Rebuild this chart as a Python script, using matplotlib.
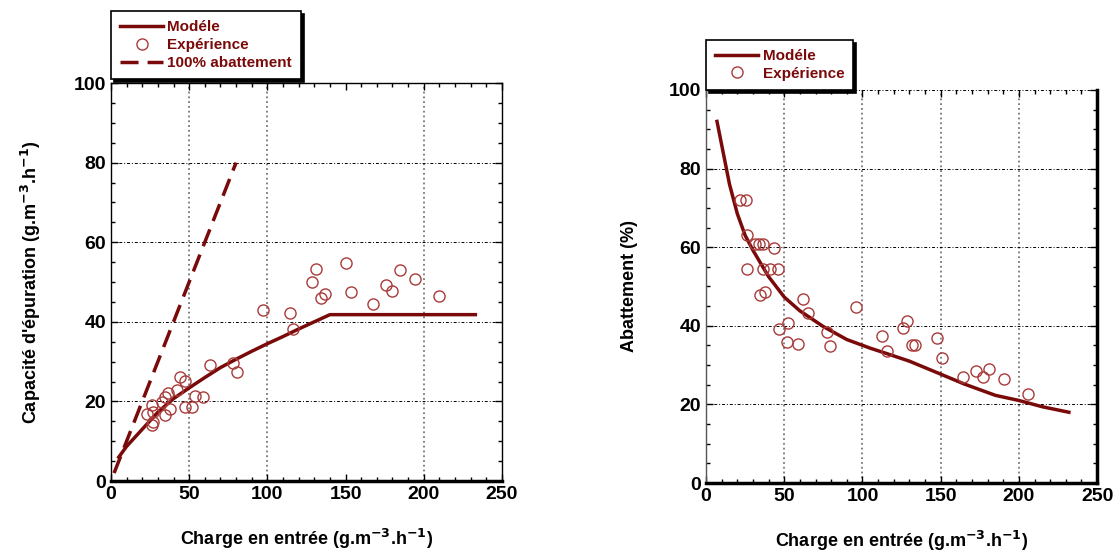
import matplotlib.pyplot as plt
from matplotlib.ticker import MultipleLocator

plt.rcParams['font.family'] = ['Liberation Sans', 'DejaVu Sans']
plt.rcParams['font.weight'] = 'bold'

# --- Capacité d'épuration ---
charge_exp_1 = [22.8, 26, 26.4, 27, 27.1, 32.4, 34.5, 34.5, 36.6, 37.7, 42, 44.1, 47.3, 47.3,
                51.6, 53.7, 59, 63.3, 78.2, 80.4, 97.4, 114.5, 116.6, 128.7, 130.9, 134.1,
                136.8, 150.3, 153.3, 167.7, 175.6, 179.9, 184.8, 194.6, 209.5]
capa_exp = [16.9, 14, 19, 14.8, 17.3, 19.8, 21.1, 16.5, 22.2, 18.2, 22.9, 26.2, 25.2, 18.6,
            18.7, 21.3, 21.1, 29.2, 29.7, 27.3, 43, 42.1, 38.2, 50.1, 53.2, 46.1,
            46.9, 54.7, 47.6, 44.6, 49.2, 47.8, 53, 50.7, 46.5]
charge_mod_1 = [5, 10, 20, 30, 40, 50, 60, 70, 80, 90, 100, 110, 120, 130, 140, 233]
capa_mod = [6, 8.7, 13, 17.3, 20.7, 23.4, 26, 28.5, 30.6, 32.6, 34.5, 36.3, 38.2, 40, 41.8, 41.8]
charge_100 = [2, 80]
capa_100 = [2, 80]

# --- Abattement ---
charge_exp_2 = [22, 25.5, 26.4, 31.3, 34, 36.7, 43.5, 26, 36.6, 40.9, 46.2, 34.5, 37.7, 62.2,
                65.4, 95.8, 46.8, 52.6, 51.5, 59, 77.1, 79.2, 112.3, 115.5, 126, 128.6,
                131.4, 133.5, 147.8, 150.6, 164.4, 172.5, 177.2, 181, 190.4, 206]
abat_exp = [72.1, 72.1, 63, 60.7, 60.7, 60.7, 59.8, 54.4, 54.4, 54.4, 54.4, 47.8, 48.7, 46.8,
            43.2, 44.9, 39.2, 40.7, 36, 35.4, 38.3, 34.8, 37.3, 33.5, 39.4, 41.3,
            35.2, 35.2, 37, 31.8, 27, 28.6, 27, 29.1, 26.5, 22.7]
charge_mod_2 = [7, 10, 15, 20, 25, 30, 40, 50, 60, 75, 90, 105, 115, 130, 150, 165, 185, 200, 215, 232]
abat_mod = [92, 86, 76, 68.5, 63, 59.2, 52.5, 47.3, 43.8, 39.8, 36.5, 34.3, 33, 31, 27.7,
            25.2, 22.3, 21, 19.4, 18]

rouge = '#7a0a0a'
rouge_pts = '#a83a3a'
xlab = 'Charge en entrée (g.m$^{\\mathbf{-3}}$.h$^{\\mathbf{-1}}$)'

fig = plt.figure(figsize=(11.14, 5.52), dpi=100)
ax1 = fig.add_axes([0.0996, 0.1286, 0.351, 0.7210])
ax2 = fig.add_axes([0.6338, 0.1250, 0.351, 0.7120])


def habiller(ax, grille_x):
    ax.set_xlim(0, 250)
    ax.set_ylim(0, 100)
    ax.xaxis.set_major_locator(MultipleLocator(50))
    ax.xaxis.set_minor_locator(MultipleLocator(10))
    ax.yaxis.set_major_locator(MultipleLocator(20))
    ax.yaxis.set_minor_locator(MultipleLocator(5))
    ax.tick_params(which='both', direction='in', top=True, right=True, labelsize=14)
    ax.tick_params(which='major', length=5, width=1)
    ax.tick_params(which='minor', length=3, width=1)
    for gx in grille_x:
        ax.axvline(gx, linestyle=':', color='#777777', linewidth=1.3, zorder=0.5)
    ax.grid(axis='y', which='major', linestyle=(0, (3, 2, 1, 2)), color='black', linewidth=0.7)
    for lab in ax.get_xticklabels() + ax.get_yticklabels():
        lab.set_fontweight('bold')
    ax.set_xlabel(xlab, fontsize=13, fontweight='bold', labelpad=17)
    ax.spines['bottom'].set_linewidth(2.5)


def legende(ax, ancre):
    leg = ax.legend(loc='lower left', bbox_to_anchor=ancre, fontsize=11,
                    frameon=True, fancybox=False, edgecolor='black', framealpha=1,
                    shadow={'color': 'black', 'alpha': 1}, handlelength=2.8,
                    borderpad=0.6, labelspacing=0.25, handletextpad=0.3, borderaxespad=0)
    leg.get_frame().set_linewidth(1.2)
    for t in leg.get_texts():
        t.set_color(rouge)
        t.set_fontweight('bold')
    return leg


habiller(ax1, [50, 100, 200])
ax1.spines['left'].set_linewidth(1)
ax1.spines['top'].set_linewidth(1)
ax1.spines['right'].set_linewidth(1)
ax1.plot(charge_mod_1, capa_mod, color=rouge, lw=2.5, label='Modéle', zorder=3)
ax1.plot(charge_exp_1, capa_exp, 'o', ms=8, mfc='none', mec=rouge_pts, mew=1,
         label='Expérience', zorder=4)
ax1.plot(charge_100, capa_100, '--', color=rouge, lw=2.5, dashes=(5.2, 2.6),
         label='100% abattement', zorder=3)
ax1.set_ylabel("Capacité d'épuration (g.m$^{\\mathbf{-3}}$.h$^{\\mathbf{-1}}$)",
               fontsize=13, fontweight='bold', labelpad=22)
legende(ax1, (0.0, 1.01))

habiller(ax2, [50, 100, 150, 200])
ax2.spines['top'].set_visible(False)
ax2.spines['left'].set_linewidth(1)
ax2.spines['left'].set_color('#555555')
ax2.spines['right'].set_linewidth(2.5)
ax2.plot(charge_mod_2, abat_mod, color=rouge, lw=2.5, label='Modéle', zorder=3)
ax2.plot(charge_exp_2, abat_exp, 'o', ms=8, mfc='none', mec=rouge_pts, mew=1,
         label='Expérience', zorder=4)
ax2.set_ylabel('Abattement (%)', fontsize=13, fontweight='bold', labelpad=22)
legende(ax2, (0.0, 1.0))

fig.savefig('out.png', dpi=100)
